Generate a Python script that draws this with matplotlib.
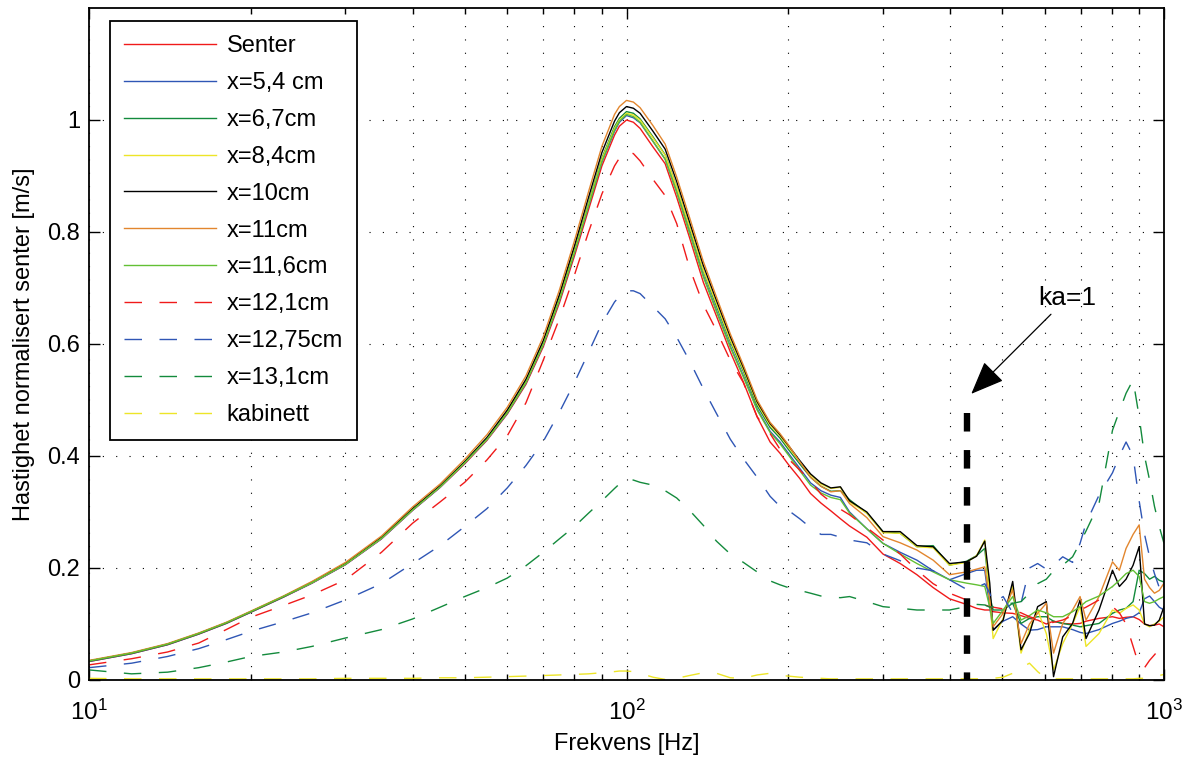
import numpy as np
import matplotlib
matplotlib.use("Agg")
import matplotlib.pyplot as plt
from matplotlib.ticker import LogLocator, NullFormatter

plt.rcParams["font.family"] = ["Liberation Sans", "DejaVu Sans"]
plt.rcParams["mathtext.fontset"] = "custom"
plt.rcParams["mathtext.rm"] = "Liberation Sans"
plt.rcParams["font.size"] = 17

# =========================
# Frequency grid [Hz]
# =========================
freq_low = [10, 12, 14, 16, 18, 20, 23, 26, 30, 35, 40, 45, 50, 55, 60, 65, 70, 75, 80, 85,
            90, 95, 97, 100, 103, 106, 112, 118, 124, 131, 139, 147, 156, 165, 175, 185, 193,
            200, 210, 220, 230, 240, 250]
freq_high = [260, 280, 300, 323, 347, 372, 399, 429, 448, 464, 474, 481, 502, 523, 542, 562,
             582, 604, 623, 648, 676, 698, 716, 757, 802, 826, 850, 876, 899, 920, 940, 960,
             980, 1000]

# Velocity normalised to centre [m/s]
senter_low = [0.033, 0.047, 0.063, 0.082, 0.101, 0.121, 0.148, 0.173, 0.206, 0.252, 0.303, 0.344,
              0.386, 0.428, 0.475, 0.528, 0.595, 0.673, 0.757, 0.840, 0.918, 0.973, 0.989, 1.000,
              0.996, 0.985, 0.952, 0.922, 0.862, 0.790, 0.710, 0.650, 0.586, 0.532, 0.470, 0.425,
              0.405, 0.385, 0.360, 0.333, 0.316, 0.302, 0.288]
senter_high = [0.275, 0.255, 0.225, 0.208, 0.188, 0.165, 0.145, 0.135, 0.128, 0.125, 0.125, 0.122,
               0.120, 0.119, 0.115, 0.110, 0.107, 0.100, 0.105, 0.101, 0.100, 0.101, 0.105, 0.110,
               0.113, 0.110, 0.112, 0.113, 0.108, 0.100, 0.097, 0.098, 0.100, 0.095]

x54_low = [0.033, 0.047, 0.063, 0.082, 0.101, 0.121, 0.148, 0.173, 0.206, 0.252, 0.303, 0.344,
           0.387, 0.429, 0.476, 0.530, 0.598, 0.677, 0.762, 0.846, 0.925, 0.980, 0.996, 1.008,
           1.004, 0.995, 0.962, 0.930, 0.872, 0.800, 0.722, 0.660, 0.596, 0.543, 0.484, 0.444,
           0.425, 0.405, 0.378, 0.352, 0.338, 0.330, 0.326]
x54_high = [0.300, 0.270, 0.244, 0.228, 0.214, 0.195, 0.179, 0.190, 0.196, 0.196, 0.130, 0.089,
            0.105, 0.113, 0.100, 0.089, 0.090, 0.095, 0.095, 0.095, 0.090, 0.085, 0.083, 0.090,
            0.101, 0.105, 0.110, 0.113, 0.120, 0.145, 0.150, 0.140, 0.130, 0.125]

x67_low = [0.034, 0.048, 0.064, 0.083, 0.102, 0.122, 0.149, 0.174, 0.207, 0.254, 0.305, 0.346,
           0.389, 0.431, 0.479, 0.533, 0.602, 0.682, 0.768, 0.852, 0.932, 0.988, 1.003, 1.015,
           1.012, 1.002, 0.970, 0.938, 0.880, 0.808, 0.730, 0.668, 0.604, 0.551, 0.490, 0.451,
           0.432, 0.412, 0.386, 0.362, 0.346, 0.337, 0.338]
x67_high = [0.322, 0.298, 0.265, 0.262, 0.238, 0.240, 0.205, 0.212, 0.222, 0.235, 0.150, 0.125,
            0.125, 0.137, 0.101, 0.110, 0.113, 0.113, 0.105, 0.101, 0.098, 0.095, 0.097, 0.101,
            0.119, 0.125, 0.128, 0.140, 0.196, 0.190, 0.180, 0.185, 0.178, 0.175]

x84_low = [0.034, 0.048, 0.064, 0.083, 0.102, 0.122, 0.149, 0.174, 0.207, 0.253, 0.304, 0.345,
           0.388, 0.430, 0.478, 0.532, 0.600, 0.680, 0.766, 0.850, 0.930, 0.985, 1.000, 1.012,
           1.009, 1.000, 0.968, 0.937, 0.880, 0.810, 0.732, 0.672, 0.607, 0.554, 0.494, 0.455,
           0.436, 0.416, 0.390, 0.366, 0.350, 0.342, 0.344]
x84_high = [0.318, 0.298, 0.263, 0.262, 0.238, 0.236, 0.205, 0.210, 0.222, 0.250, 0.143, 0.074,
            0.110, 0.167, 0.048, 0.090, 0.125, 0.083, 0.018, 0.065, 0.100, 0.131, 0.060, 0.083,
            0.125, 0.119, 0.128, 0.134, 0.125, 0.100, 0.095, 0.100, 0.105, 0.113]

x10_low = [0.034, 0.048, 0.064, 0.083, 0.102, 0.122, 0.149, 0.175, 0.208, 0.255, 0.306, 0.347,
           0.390, 0.433, 0.482, 0.537, 0.606, 0.688, 0.775, 0.862, 0.942, 0.998, 1.013, 1.024,
           1.021, 1.012, 0.980, 0.948, 0.890, 0.818, 0.740, 0.678, 0.613, 0.558, 0.497, 0.458,
           0.438, 0.419, 0.392, 0.368, 0.352, 0.343, 0.345]
x10_high = [0.320, 0.300, 0.265, 0.265, 0.240, 0.238, 0.208, 0.211, 0.221, 0.248, 0.173, 0.089,
            0.107, 0.176, 0.054, 0.083, 0.131, 0.140, 0.006, 0.077, 0.101, 0.143, 0.074, 0.125,
            0.196, 0.167, 0.180, 0.205, 0.238, 0.100, 0.097, 0.098, 0.107, 0.131]

x11_low = [0.035, 0.049, 0.065, 0.084, 0.103, 0.123, 0.150, 0.176, 0.210, 0.257, 0.309, 0.350,
           0.394, 0.438, 0.487, 0.543, 0.613, 0.696, 0.784, 0.872, 0.953, 1.010, 1.024, 1.035,
           1.032, 1.022, 0.990, 0.957, 0.898, 0.826, 0.747, 0.684, 0.618, 0.562, 0.500, 0.460,
           0.440, 0.420, 0.390, 0.362, 0.346, 0.336, 0.338]
x11_high = [0.315, 0.290, 0.256, 0.245, 0.232, 0.214, 0.188, 0.193, 0.198, 0.202, 0.143, 0.095,
            0.119, 0.161, 0.065, 0.100, 0.119, 0.137, 0.048, 0.101, 0.125, 0.149, 0.107, 0.149,
            0.211, 0.196, 0.235, 0.260, 0.277, 0.180, 0.165, 0.155, 0.160, 0.173]

x116_low = [0.034, 0.048, 0.064, 0.083, 0.102, 0.122, 0.149, 0.174, 0.207, 0.253, 0.304, 0.345,
            0.388, 0.430, 0.477, 0.531, 0.599, 0.678, 0.763, 0.847, 0.926, 0.982, 0.998, 1.010,
            1.006, 0.996, 0.962, 0.930, 0.871, 0.798, 0.720, 0.658, 0.594, 0.541, 0.482, 0.442,
            0.422, 0.402, 0.374, 0.348, 0.334, 0.326, 0.322]
x116_high = [0.298, 0.270, 0.244, 0.225, 0.208, 0.193, 0.179, 0.173, 0.170, 0.167, 0.130, 0.101,
             0.125, 0.149, 0.107, 0.115, 0.125, 0.120, 0.113, 0.113, 0.122, 0.131, 0.140, 0.150,
             0.167, 0.178, 0.190, 0.196, 0.185, 0.140, 0.137, 0.140, 0.145, 0.149]

x121_low = [0.027, 0.038, 0.050, 0.066, 0.090, 0.112, 0.133, 0.152, 0.179, 0.228, 0.280, 0.318,
            0.353, 0.393, 0.436, 0.495, 0.571, 0.645, 0.723, 0.800, 0.868, 0.918, 0.932, 0.943,
            0.940, 0.927, 0.894, 0.865, 0.815, 0.736, 0.670, 0.624, 0.571, 0.531, 0.470, 0.440,
            0.412, 0.395, 0.375, 0.355, 0.332, 0.318, 0.305]
x121_high = [0.295, 0.272, 0.250, 0.225, 0.196, 0.172, 0.155, 0.143, 0.137, 0.134, 0.131, 0.130,
             0.127, 0.125, 0.120, 0.113, 0.108, 0.101, 0.103, 0.107, 0.115, 0.125, 0.130, 0.143,
             0.131, 0.120, 0.100, 0.060, 0.025, 0.022, 0.035, 0.045, 0.055, 0.065]

x1275_low = [0.022, 0.030, 0.042, 0.056, 0.072, 0.087, 0.104, 0.120, 0.143, 0.172, 0.208, 0.240,
             0.274, 0.306, 0.343, 0.383, 0.426, 0.478, 0.531, 0.585, 0.637, 0.675, 0.685, 0.695,
             0.695, 0.690, 0.667, 0.645, 0.612, 0.570, 0.520, 0.476, 0.430, 0.395, 0.362, 0.328,
             0.310, 0.303, 0.288, 0.272, 0.260, 0.260, 0.255]
x1275_high = [0.250, 0.245, 0.225, 0.213, 0.200, 0.195, 0.179, 0.162, 0.165, 0.172, 0.155, 0.137,
              0.149, 0.120, 0.137, 0.200, 0.208, 0.198, 0.205, 0.220, 0.210, 0.244, 0.280, 0.330,
              0.370, 0.400, 0.425, 0.400, 0.320, 0.260, 0.220, 0.190, 0.165, 0.143]

x131_low = [0.018, 0.011, 0.014, 0.022, 0.032, 0.042, 0.050, 0.060, 0.075, 0.090, 0.109, 0.130,
            0.149, 0.165, 0.182, 0.204, 0.228, 0.252, 0.274, 0.298, 0.320, 0.342, 0.350, 0.360,
            0.357, 0.353, 0.348, 0.338, 0.325, 0.303, 0.276, 0.248, 0.225, 0.210, 0.193, 0.177,
            0.170, 0.165, 0.160, 0.155, 0.150, 0.148, 0.147]
x131_high = [0.149, 0.140, 0.131, 0.128, 0.125, 0.125, 0.125, 0.131, 0.135, 0.134, 0.130, 0.131,
             0.137, 0.137, 0.140, 0.155, 0.172, 0.180, 0.195, 0.205, 0.220, 0.245, 0.266, 0.315,
             0.446, 0.480, 0.512, 0.536, 0.470, 0.400, 0.357, 0.310, 0.274, 0.244]

kab_low = [0.003, 0.002, 0.002, 0.002, 0.002, 0.002, 0.002, 0.002, 0.003, 0.003, 0.003, 0.004,
           0.004, 0.005, 0.006, 0.007, 0.008, 0.009, 0.010, 0.011, 0.013, 0.015, 0.016, 0.016,
           0.015, 0.012, 0.005, 0.001, 0.003, 0.008, 0.013, 0.012, 0.004, 0.003, 0.009, 0.012,
           0.008, 0.007, 0.005, 0.004, 0.003, 0.002, 0.002]
kab_high = [0.002, 0.002, 0.002, 0.002, 0.002, 0.002, 0.002, 0.002, 0.002, 0.002, 0.002, 0.003,
            0.005, 0.012, 0.022, 0.030, 0.015, 0.002, 0.002, 0.002, 0.002, 0.002, 0.002, 0.002,
            0.002, 0.002, 0.002, 0.002, 0.003, 0.003, 0.004, 0.006, 0.008, 0.010]

labels = ["Senter", "x=5,4 cm", "x=6,7cm", "x=8,4cm", "x=10cm", "x=11cm", "x=11,6cm",
          "x=12,1cm", "x=12,75cm", "x=13,1cm", "kabinett"]
series_low = [senter_low, x54_low, x67_low, x84_low, x10_low, x11_low, x116_low,
              x121_low, x1275_low, x131_low, kab_low]
series_high = [senter_high, x54_high, x67_high, x84_high, x10_high, x11_high, x116_high,
               x121_high, x1275_high, x131_high, kab_high]
colors = ["#f01a1a", "#2f56b5", "#138a3c", "#ede528", "#000000", "#e2862e", "#62c034",
          "#f01a1a", "#2f56b5", "#138a3c", "#ede528"]
dashed = [False] * 7 + [True] * 4

# ka=1 marker
ka_freq = 430
ka_top = 0.476
ka_text_pos = (662, 0.683)
ka_arrow_tip = (438, 0.511)

freq = np.array(freq_low + freq_high)

fig = plt.figure(figsize=(11.9, 7.62), dpi=100)
ax = fig.add_axes([89 / 1190, 82 / 762, 1075 / 1190, 672 / 762])

for lbl, lo, hi, c, d in zip(labels, series_low, series_high, colors, dashed):
    y = np.array(lo + hi)
    if d:
        ax.plot(freq, y, color=c, lw=1.0, dashes=(12.6, 12.6), label=lbl)
    else:
        ax.plot(freq, y, color=c, lw=1.0, label=lbl)

# ka=1 thick dashed line + arrow
ax.plot([ka_freq, ka_freq], [ka_top, 0], color="black", lw=4.6, dashes=(2.9, 2.9),
        solid_capstyle="butt", dash_capstyle="butt", zorder=5)
ax.annotate("ka=1", xy=ka_arrow_tip, xytext=ka_text_pos, ha="center", va="center",
            fontsize=19,
            arrowprops=dict(arrowstyle="-|>,head_length=1.1,head_width=0.45", color="black",
                            lw=0.9, shrinkA=2, shrinkB=0))

ax.set_xscale("log")
ax.set_xlim(10, 1000)
ax.set_ylim(0, 1.2)
ax.set_yticks([0, 0.2, 0.4, 0.6, 0.8, 1.0])
ax.set_yticklabels(["0", "0.2", "0.4", "0.6", "0.8", "1"])
ax.xaxis.set_minor_locator(LogLocator(base=10, subs=np.arange(2, 10)))
ax.xaxis.set_minor_formatter(NullFormatter())

ax.grid(which="major", axis="both", color="black", lw=0.8, linestyle=(0, (1, 11)))
ax.grid(which="minor", axis="x", color="black", lw=0.8, linestyle=(0, (1, 11)))

ax.tick_params(which="both", direction="in", top=True, right=True, width=1.0)
ax.tick_params(which="major", length=8)
ax.tick_params(which="minor", length=4)
ax.tick_params(axis="x", which="major", pad=14, labelsize=17.5)
ax.tick_params(axis="y", which="major", pad=6.5, labelsize=17)
for s in ax.spines.values():
    s.set_linewidth(1.3)

ax.set_xlabel("Frekvens [Hz]", labelpad=6)
ax.set_ylabel("Hastighet normalisert senter [m/s]", labelpad=9)

leg = ax.legend(loc="upper left", bbox_to_anchor=(21 / 1075, 1 - 13 / 672), borderaxespad=0,
                handlelength=3.9, handletextpad=0.45, labelspacing=0.63, borderpad=0.6,
                fancybox=False, framealpha=1, edgecolor="black")
leg.get_frame().set_linewidth(1.3)

fig.savefig("out.png", dpi=100)
